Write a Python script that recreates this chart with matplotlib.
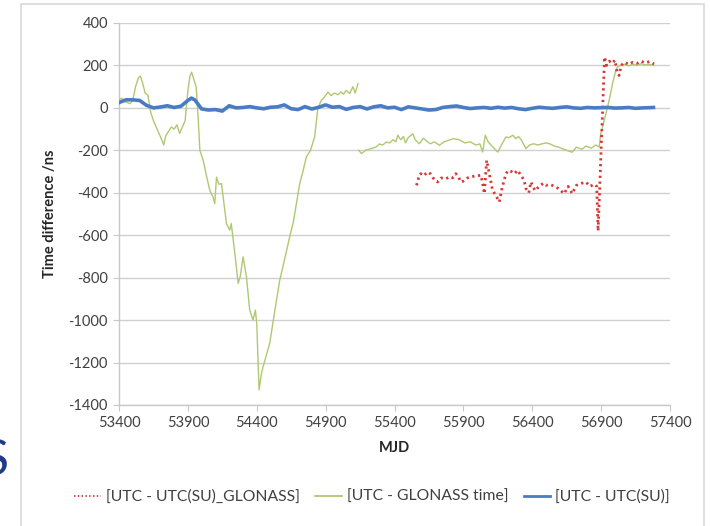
import numpy as np
import matplotlib
matplotlib.use("Agg")
import matplotlib.pyplot as plt
from matplotlib.patches import Rectangle

plt.rcParams['font.family'] = ['Lato', 'DejaVu Sans']

# ---------------- data ----------------
blue_mjd = [53400, 53450, 53500, 53550, 53600, 53650, 53700, 53750, 53800, 53850,
            53900, 53925, 53950, 54000, 54050, 54100, 54150, 54200, 54250, 54300,
            54350, 54400, 54450, 54500, 54550, 54600, 54650, 54700, 54750, 54800,
            54850, 54900, 54950, 55000, 55050, 55100, 55150, 55200, 55250, 55300,
            55350, 55400, 55450, 55500, 55550, 55600, 55650, 55700, 55750, 55800,
            55850, 55900, 55950, 56000, 56050, 56100, 56150, 56200, 56250, 56300,
            56350, 56400, 56450, 56500, 56550, 56600, 56650, 56700, 56750, 56800,
            56850, 56900, 56950, 57000, 57050, 57100, 57150, 57200, 57250, 57280]
blue_val = [25, 38, 38, 35, 12, 0, 4, 10, 2, 8,
            35, 46, 38, -5, -10, -8, -15, 10, 0, 2,
            6, 0, -4, 3, 5, 14, -4, -8, 6, -5,
            3, 14, 3, 6, -7, 2, 6, -5, 5, 10,
            0, 3, -8, 5, 0, -5, -10, -8, 2, 6,
            9, 2, -3, 0, 2, -2, 3, -1, 2, -4,
            -8, -2, 3, 0, -2, 2, 5, 0, -2, 2,
            0, 1, 2, -1, 0, 2, -2, 0, 1, 2]

green_mjd = [53400, 53420, 53440, 53460, 53480, 53500, 53520, 53540, 53555, 53570,
             53590, 53610, 53630, 53650, 53670, 53690, 53710, 53725, 53740, 53760,
             53780, 53800, 53820, 53840, 53860, 53880, 53900, 53915, 53927, 53945,
             53960, 53975, 53987, 54011, 54035, 54059, 54083, 54095, 54108, 54125,
             54144, 54160, 54180, 54204, 54215, 54241, 54265, 54280, 54301, 54325,
             54349, 54373, 54390, 54400, 54417, 54434, 54446, 54494, 54530, 54567,
             54600, 54639, 54665, 54688, 54712, 54735, 54760, 54790, 54820, 54844,
             54869, 54890, 54917, 54940, 54965, 54990, 55010, 55030, 55050, 55075,
             55098, 55115, 55135,
             55137,
             55140, 55160, 55190, 55215, 55240, 55267, 55290, 55315, 55340, 55365,
             55390, 55410, 55424, 55445, 55465, 55480, 55500, 55533, 55550, 55580,
             55610, 55640, 55660, 55690, 55726, 55760, 55790, 55830, 55870, 55910,
             55950, 55990, 56020, 56040, 56059, 56080, 56100, 56137, 56150, 56180,
             56209, 56230, 56260, 56280, 56300, 56320, 56354, 56380, 56410, 56440,
             56473, 56500, 56530, 56560, 56590, 56618, 56650, 56690, 56720, 56760,
             56790, 56830, 56860, 56886, 56897, 56930, 56958, 56985, 57006, 57018,
             57040, 57070, 57100, 57130, 57160, 57190, 57220, 57250, 57284]
green_val = [40, 45, 30, 25, 20, 35, 100, 140, 150, 120,
             70, 60, -20, -60, -90, -120, -150, -175, -130, -110,
             -90, -100, -80, -120, -90, -60, 80, 150, 168, 130,
             100, -50, -200, -247, -320, -388, -420, -451, -326, -360,
             -357, -440, -545, -576, -545, -686, -827, -795, -702, -795,
             -953, -1000, -953, -1016, -1329, -1251, -1220, -1110, -960, -812,
             -720, -608, -540, -451, -357, -300, -231, -200, -137, 0,
             35, 50, 74, 58, 70, 62, 75, 65, 82, 68,
             100, 70, 114,
             np.nan,
             -200, -215, -200, -195, -190, -184, -170, -175, -161, -165,
             -150, -160, -129, -150, -135, -165, -140, -122, -150, -169,
             -143, -160, -169, -160, -176, -160, -153, -145, -150, -165,
             -160, -175, -170, -208, -129, -160, -175, -200, -208, -170,
             -137, -140, -129, -145, -135, -150, -192, -175, -169, -175,
             -169, -165, -170, -180, -185, -192, -200, -209, -185, -195,
             -180, -190, -175, -184, -122, -40, 35, 120, 176, 192,
             200, 205, 198, 205, 200, 208, 202, 205, 200]

red_mjd = [55560, 55575, 55590, 55610, 55641, 55660, 55680, 55700, 55714, 55740,
           55770, 55800, 55822, 55845, 55865, 55880, 55900, 55930, 55960, 55990,
           56028, 56040, 56052, 56069, 56085, 56112, 56135, 56161, 56180, 56209,
           56225, 56250, 56270, 56294, 56320, 56340, 56354, 56375, 56390, 56420,
           56450, 56480, 56499, 56530, 56560, 56590, 56632, 56660, 56690, 56720,
           56760, 56789, 56820, 56850, 56868, 56878, 56925, 56940, 56960, 56980,
           57000, 57018, 57031, 57045, 57070, 57100, 57130, 57160, 57190, 57220,
           57250, 57284]
red_val = [-365, -330, -310, -320, -302, -310, -330, -345, -349, -330,
           -335, -325, -330, -310, -325, -349, -345, -330, -325, -320,
           -318, -357, -404, -247, -300, -388, -412, -443, -380, -310,
           -295, -300, -310, -294, -320, -340, -380, -400, -349, -390,
           -370, -355, -365, -360, -370, -380, -404, -370, -404, -365,
           -355, -349, -370, -360, -370, -580, 240, 200, 220, 210,
           225, 161, 153, 200, 215, 205, 215, 210, 220, 212,
           218, 207]

series_labels = ["[UTC - UTC(SU)_GLONASS]", "[UTC - GLONASS time]", "[UTC - UTC(SU)]"]
x_ticks = [53400, 53900, 54400, 54900, 55400, 55900, 56400, 56900, 57400]
y_ticks = list(range(-1400, 401, 200))

# ---------------- figure ----------------
fig = plt.figure(figsize=(7.10, 5.26), dpi=100)
fig.patch.set_facecolor('white')

# outer chart border
fig.patches.append(Rectangle((21 / 710, -0.02), (704 - 21) / 710, 1.02 - 4 / 526,
                             transform=fig.transFigure, fill=False,
                             edgecolor='#d9d9d9', linewidth=1.2, zorder=0))

ax = fig.add_axes([119 / 710, 1 - 405 / 526, (670 - 119) / 710, (405 - 23) / 526])

ax.plot(red_mjd, red_val, color='#d83636', linewidth=2.0,
        linestyle=(0, (0.8, 1.3)), label=series_labels[0], zorder=4)
ax.plot(green_mjd, green_val, color='#afc872', linewidth=1.0,
        label=series_labels[1], zorder=3)
ax.plot(blue_mjd, blue_val, color='#4a7cc4', linewidth=2.6,
        label=series_labels[2], zorder=5)

ax.set_xlim(53400, 57400)
ax.set_ylim(-1400, 400)
ax.set_xticks(x_ticks)
ax.set_yticks(y_ticks)
ax.set_xticklabels([str(v) for v in x_ticks])
ax.set_yticklabels([str(v) for v in y_ticks])
ax.yaxis.grid(True, color='#d0d0d0', linewidth=1.0)
ax.set_axisbelow(True)

for s in ['top', 'right']:
    ax.spines[s].set_visible(False)
for s in ['left', 'bottom']:
    ax.spines[s].set_color('#c8c8c8')
    ax.spines[s].set_linewidth(1.0)

ax.tick_params(axis='both', direction='out', color='#c8c8c8', length=4,
               labelsize=10.5, labelcolor='#404040', pad=4)

ax.set_xlabel("MJD", fontsize=10.5, fontweight='bold', color='#262626', labelpad=8)
ax.set_ylabel("Time difference /ns", fontsize=10.5, fontweight='bold',
              color='#262626', labelpad=8)

leg = fig.legend(loc='center', bbox_to_anchor=(372 / 710, 1 - 497 / 526), ncol=3,
                 frameon=False, fontsize=11.3, handlelength=1.7,
                 columnspacing=1.0, handletextpad=0.3)
for t in leg.get_texts():
    t.set_color('#404040')
lw_leg = [1.3, 1.3, 2.0]
for h, w in zip(leg.legend_handles, lw_leg):
    h.set_linewidth(w)

fig.text(9 / 710, 1 - 461 / 526, "S", fontsize=36, color='#1f3c8a',
         ha='right', va='center')

fig.savefig("out.png", dpi=100)
